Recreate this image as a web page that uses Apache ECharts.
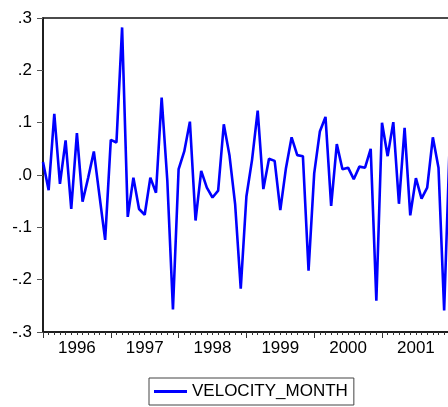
<!DOCTYPE html>
<html>
<head>
<meta charset="utf-8">
<script src="https://cdn.jsdelivr.net/npm/echarts@6/dist/echarts.min.js"></script>
<style>
  html, body { margin: 0; padding: 0; background: #fff; }
  #chart { width: 448px; height: 407px; }
</style>
</head>
<body>
<div id="chart"></div>
<script>
// monthly observations, Jan 1996 onward
var startYear = 1996;
var monthCount = 76; // axis runs a little past the picture's right edge

var velocity = [
  0.025, -0.029, 0.117, -0.017, 0.066, -0.065, 0.080, -0.051, -0.005, 0.045, -0.040, -0.124,
  0.067, 0.062, 0.282, -0.080, -0.005, -0.065, -0.076, -0.005, -0.034, 0.148, -0.010, -0.257,
  0.011, 0.045, 0.102, -0.087, 0.008, -0.024, -0.043, -0.030, 0.097, 0.038, -0.055, -0.217,
  -0.041, 0.029, 0.123, -0.027, 0.031, 0.027, -0.067, 0.013, 0.072, 0.038, 0.036, -0.183,
  0.003, 0.083, 0.111, -0.059, 0.059, 0.011, 0.014, -0.008, 0.016, 0.014, 0.050, -0.240,
  0.100, 0.036, 0.101, -0.055, 0.090, -0.077, -0.006, -0.045, -0.024, 0.072, 0.014, -0.259,
  0.067
];

var yTicks = [-0.3, -0.2, -0.1, 0.0, 0.1, 0.2, 0.3];

// category labels: "1996-01" ...
var months = [];
for (var i = 0; i < monthCount; i++) {
  var y = startYear + Math.floor(i / 12);
  var m = (i % 12) + 1;
  months.push(y + '-' + (m < 10 ? '0' + m : m));
}

var chart = echarts.init(document.getElementById('chart'));
var font = 'Liberation Sans, Arial, sans-serif';

chart.setOption({
  animation: false,
  grid: {
    left: 43,
    top: 18,
    bottom: 75,
    right: 448 - (43 + (monthCount - 1) * 5.65),
    containLabel: false,
    outerBoundsMode: 'none',
    show: true,
    borderColor: '#111',
    borderWidth: 1.5
  },
  legend: {
    data: ['VELOCITY_MONTH'],
    left: 149,
    top: 378,
    padding: [5, 6, 5, 5],
    borderColor: '#444',
    borderWidth: 1,
    icon: 'rect',
    itemWidth: 33,
    itemHeight: 3,
    itemGap: 0,
    textStyle: { fontFamily: font, fontSize: 17, color: '#000' }
  },
  xAxis: [
    {
      type: 'category',
      position: 'bottom',
      data: months,
      boundaryGap: false,
      axisLine: { onZero: false, lineStyle: { color: '#111', width: 1.5 } },
      axisTick: { interval: 0, length: 3, lineStyle: { color: '#333' } },
      axisLabel: {
        interval: function (idx) { return idx % 12 === 6; },
        formatter: function (v) { return v.slice(0, 4); },
        margin: 8,
        fontFamily: font,
        fontSize: 17,
        color: '#000'
      },
      splitLine: { show: false }
    },
    {
      // year boundary ticks
      type: 'category',
      position: 'bottom',
      data: months,
      boundaryGap: false,
      axisLine: { show: false, onZero: false },
      axisTick: {
        interval: function (idx) { return idx % 12 === 0; },
        length: 6,
        lineStyle: { color: '#333' }
      },
      axisLabel: { show: false },
      splitLine: { show: false }
    }
  ],
  yAxis: {
    type: 'value',
    min: yTicks[0],
    max: yTicks[yTicks.length - 1],
    interval: 0.1,
    axisLine: { show: true, lineStyle: { color: '#111', width: 1.5 } },
    axisTick: { show: true, length: 6, lineStyle: { color: '#555' } },
    axisLabel: {
      margin: 11,
      fontFamily: font,
      fontSize: 17,
      color: '#000',
      formatter: function (v) {
        var n = Math.round(Math.abs(v) * 10);
        return (v < -1e-9 ? '-' : '') + '.' + n;
      }
    },
    splitLine: { show: false }
  },
  series: [
    {
      name: 'VELOCITY_MONTH',
      type: 'line',
      data: velocity,
      symbol: 'none',
      lineStyle: { color: '#0000ff', width: 2.6 },
      itemStyle: { color: '#0000ff' }
    }
  ]
});
</script>
</body>
</html>
